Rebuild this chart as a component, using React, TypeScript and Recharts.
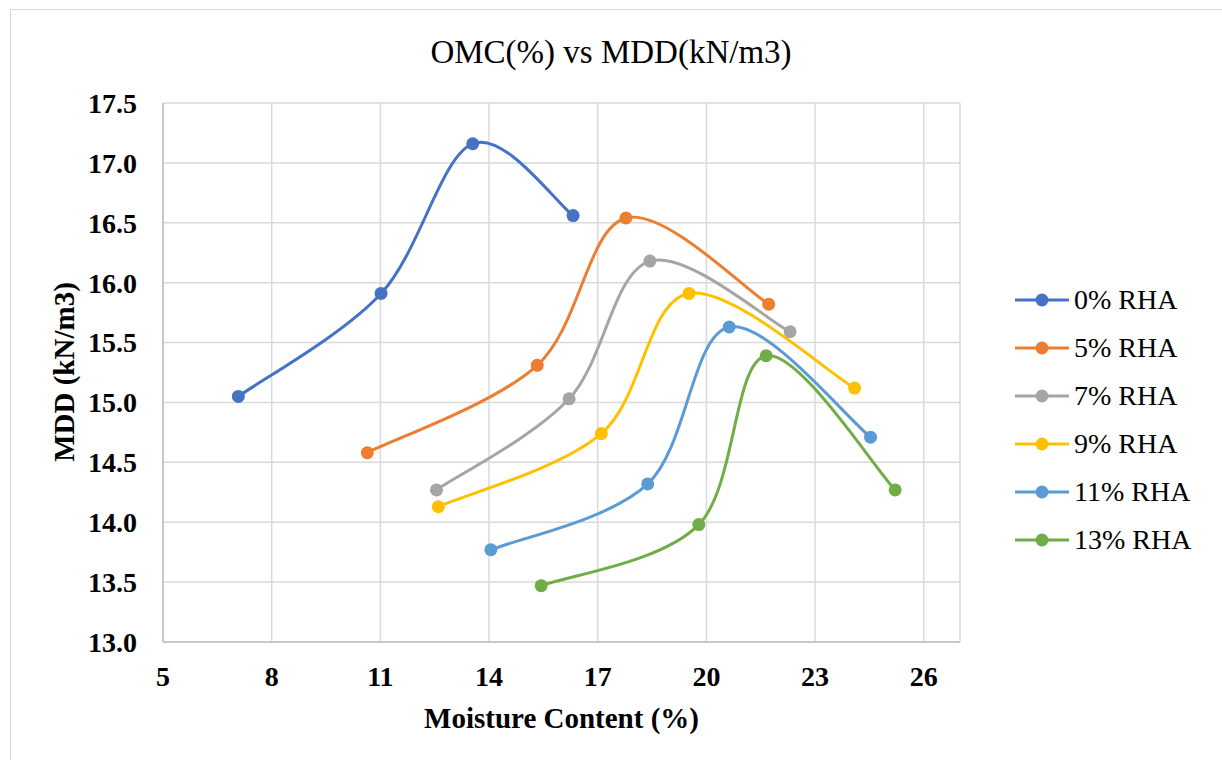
import React from 'react';
import { LineChart, Line, XAxis, YAxis, CartesianGrid } from 'recharts';

// Moisture content (%) and dry density (kN/m3) for each RHA mix
const rha0X = [7.08, 11.02, 13.55, 16.32];
const rha0Y = [15.05, 15.91, 17.16, 16.56];
const rha5X = [10.64, 15.33, 17.78, 21.72];
const rha5Y = [14.58, 15.31, 16.54, 15.82];
const rha7X = [12.55, 16.21, 18.44, 22.31];
const rha7Y = [14.27, 15.03, 16.18, 15.59];
const rha9X = [12.6, 17.1, 19.52, 24.09];
const rha9Y = [14.13, 14.74, 15.91, 15.12];
const rha11X = [14.05, 18.38, 20.63, 24.53];
const rha11Y = [13.77, 14.32, 15.63, 14.71];
const rha13X = [15.44, 19.79, 21.65, 25.21];
const rha13Y = [13.47, 13.98, 15.39, 14.27];

const seriesNames = ['0% RHA', '5% RHA', '7% RHA', '9% RHA', '11% RHA', '13% RHA'];
const seriesColors = ['#4472C4', '#ED7D31', '#A5A5A5', '#FFC000', '#5B9BD5', '#70AD47'];
const seriesX = [rha0X, rha5X, rha7X, rha9X, rha11X, rha13X];
const seriesY = [rha0Y, rha5Y, rha7Y, rha9Y, rha11Y, rha13Y];

const xTicks = [5, 8, 11, 14, 17, 20, 23, 26];
const yTicks = [13.0, 13.5, 14.0, 14.5, 15.0, 15.5, 16.0, 16.5, 17.0, 17.5];

const FONT = "'Liberation Serif', 'Times New Roman', serif";

// Excel-like smoothed line (Catmull-Rom through the points)
const excelSmooth = (context: any) => {
  let pts: [number, number][] = [];
  return {
    areaStart() {},
    areaEnd() {},
    lineStart() {
      pts = [];
    },
    lineEnd() {
      const n = pts.length;
      if (!n) return;
      context.moveTo(pts[0][0], pts[0][1]);
      for (let i = 0; i < n - 1; i++) {
        const p0 = pts[i - 1] || pts[i];
        const p1 = pts[i];
        const p2 = pts[i + 1];
        const p3 = pts[i + 2] || pts[i + 1];
        context.bezierCurveTo(
          p1[0] + (p2[0] - p0[0]) / 6,
          p1[1] + (p2[1] - p0[1]) / 6,
          p2[0] - (p3[0] - p1[0]) / 6,
          p2[1] - (p3[1] - p1[1]) / 6,
          p2[0],
          p2[1]
        );
      }
    },
    point(x: number, y: number) {
      pts.push([+x, +y]);
    },
  };
};

const series = seriesNames.map((name, i) => ({
  name,
  color: seriesColors[i],
  data: seriesX[i].map((x, j) => ({ x, y: seriesY[i][j] })),
}));

function LegendBox() {
  return (
    <div style={{ position: 'absolute', left: 1013, top: 276, fontFamily: FONT, fontSize: 28, color: '#000' }}>
      {series.map((s) => (
        <div key={s.name} style={{ display: 'flex', alignItems: 'center', height: 48 }}>
          <svg width={58} height={20} style={{ marginRight: 3 }}>
            <line x1={2} y1={10} x2={56} y2={10} stroke={s.color} strokeWidth={3} />
            <circle cx={29} cy={10} r={6.5} fill={s.color} />
          </svg>
          <span>{s.name}</span>
        </div>
      ))}
    </div>
  );
}

export default function App() {
  return (
    <div style={{ position: 'absolute', left: 0, top: 0, width: 1222, height: 760, overflow: 'hidden', background: '#fff' }}>
      <div
        style={{
          position: 'absolute',
          left: 10,
          top: 9,
          width: 1400,
          height: 900,
          borderTop: '1.5px solid #D9D9D9',
          borderLeft: '1.5px solid #D9D9D9',
        }}
      />
      <div
        style={{
          position: 'absolute',
          left: 0,
          width: 1222,
          top: 32,
          textAlign: 'center',
          fontFamily: FONT,
          fontSize: 33,
          lineHeight: '40px',
          color: '#000',
        }}
      >
        OMC(%) vs MDD(kN/m3)
      </div>
      <div
        style={{
          position: 'absolute',
          left: 163,
          width: 797,
          top: 700,
          textAlign: 'center',
          fontFamily: FONT,
          fontSize: 29,
          fontWeight: 'bold',
          lineHeight: '36px',
          color: '#000',
        }}
      >
        Moisture Content (%)
      </div>
      <div
        style={{
          position: 'absolute',
          left: 64,
          top: 372,
          transform: 'translate(-50%, -50%) rotate(-90deg)',
          whiteSpace: 'nowrap',
          fontFamily: FONT,
          fontSize: 29,
          fontWeight: 'bold',
          lineHeight: '36px',
          color: '#000',
        }}
      >
        MDD (kN/m3)
      </div>
      <div style={{ position: 'absolute', left: 0, top: 0 }}>
        <LineChart width={1222} height={760} margin={{ top: 103, right: 262, bottom: 0, left: 0 }}>
          <CartesianGrid stroke="#D9D9D9" strokeWidth={1.5} />
          <XAxis
            type="number"
            dataKey="x"
            domain={[5, 27]}
            ticks={xTicks}
            allowDataOverflow
            stroke="#BFBFBF"
            strokeWidth={1.5}
            tickLine={false}
            tickSize={0}
            tickMargin={24}
            tick={{ fill: '#000', fontFamily: FONT, fontSize: 28, fontWeight: 'bold' }}
            height={118}
          />
          <YAxis
            type="number"
            dataKey="y"
            domain={[13, 17.5]}
            ticks={yTicks}
            allowDataOverflow
            stroke="#BFBFBF"
            strokeWidth={1.5}
            tickLine={false}
            tickSize={0}
            tickMargin={26}
            tickFormatter={(v: number) => v.toFixed(1)}
            tick={{ fill: '#000', fontFamily: FONT, fontSize: 28, fontWeight: 'bold' }}
            width={163}
          />
          {series.map((s) => (
            <Line
              key={s.name}
              data={s.data}
              dataKey="y"
              name={s.name}
              type={excelSmooth as any}
              stroke={s.color}
              strokeWidth={3}
              dot={{ r: 6.5, fill: s.color, stroke: s.color, strokeWidth: 0 }}
              activeDot={false}
              isAnimationActive={false}
            />
          ))}
        </LineChart>
      </div>
      <LegendBox />
    </div>
  );
}
